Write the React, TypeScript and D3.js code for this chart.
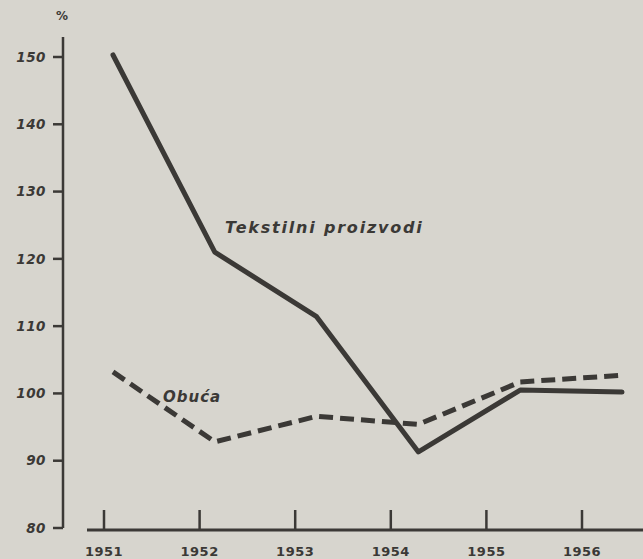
import React, { useEffect, useRef } from 'react';
import * as d3 from 'd3';

// values (index, 1951 = 100-ish)
const years = ['1951', '1952', '1953', '1954', '1955', '1956'];
const tekstil = [150.3, 121.0, 111.4, 91.3, 100.5, 100.2];
const obuca = [103.2, 92.8, 96.6, 95.4, 101.7, 102.7];
const yTicks = [80, 90, 100, 110, 120, 130, 140, 150];

const W = 643;
const H = 559;
const INK = '#3b3936';
const PAPER = '#d7d5ce';

const App = () => {
    const ref = useRef<SVGSVGElement>(null);

    useEffect(() => {
        const svg = d3.select(ref.current);
        svg.selectAll('*').remove();

        svg.append('rect').attr('width', W).attr('height', H).attr('fill', PAPER);

        const y = d3.scaleLinear().domain([80, 150]).range([528, 57]);
        // the printed ticks and the plotted points are not quite aligned
        const xAxis = d3.scalePoint().domain(years).range([104, 582]);
        const xData = d3.scalePoint().domain(years).range([113, 622]);

        const font = '"DejaVu Sans", sans-serif';

        // y axis
        svg.append('line')
            .attr('x1', 63).attr('x2', 63)
            .attr('y1', 37).attr('y2', y(80))
            .attr('stroke', INK).attr('stroke-width', 2.5);

        const yg = svg.append('g');
        yg.selectAll('line')
            .data(yTicks)
            .enter().append('line')
            .attr('x1', 53).attr('x2', 63)
            .attr('y1', d => y(d)).attr('y2', d => y(d))
            .attr('stroke', INK).attr('stroke-width', 2.5);
        yg.selectAll('text')
            .data(yTicks)
            .enter().append('text')
            .attr('x', 46)
            .attr('y', d => y(d))
            .attr('dy', '0.35em')
            .attr('text-anchor', 'end')
            .attr('font-family', font)
            .attr('font-style', 'italic')
            .attr('font-weight', 'bold')
            .attr('font-size', 13.5)
            .attr('letter-spacing', 0.5)
            .attr('fill', INK)
            .text(d => d);

        svg.append('text')
            .attr('x', 62).attr('y', 20)
            .attr('text-anchor', 'middle')
            .attr('font-family', font)
            .attr('font-weight', 'bold')
            .attr('font-size', 12)
            .attr('fill', INK)
            .text('%');

        // x axis
        svg.append('line')
            .attr('x1', 87).attr('x2', W)
            .attr('y1', 530).attr('y2', 530)
            .attr('stroke', INK).attr('stroke-width', 3);

        const xg = svg.append('g');
        xg.selectAll('line')
            .data(years)
            .enter().append('line')
            .attr('x1', d => xAxis(d)).attr('x2', d => xAxis(d))
            .attr('y1', 510).attr('y2', 530)
            .attr('stroke', INK).attr('stroke-width', 2.5);
        xg.selectAll('text')
            .data(years)
            .enter().append('text')
            .attr('x', d => xAxis(d))
            .attr('y', 556)
            .attr('text-anchor', 'middle')
            .attr('font-family', font)
            .attr('font-weight', 'bold')
            .attr('font-size', 13)
            .attr('letter-spacing', 0.5)
            .attr('fill', INK)
            .text(d => d);

        const line = d3.line<number>()
            .x((_, i) => xData(years[i]) as number)
            .y(d => y(d));

        svg.append('path')
            .attr('d', line(obuca))
            .attr('fill', 'none')
            .attr('stroke', INK)
            .attr('stroke-width', 5)
            .attr('stroke-dasharray', '14 7')
            .attr('stroke-linejoin', 'round');

        svg.append('path')
            .attr('d', line(tekstil))
            .attr('fill', 'none')
            .attr('stroke', INK)
            .attr('stroke-width', 5)
            .attr('stroke-linecap', 'round')
            .attr('stroke-linejoin', 'round');

        svg.append('text')
            .attr('x', 225).attr('y', 233)
            .attr('font-family', font)
            .attr('font-style', 'italic')
            .attr('font-weight', 'bold')
            .attr('font-size', 16)
            .attr('letter-spacing', 1.8)
            .attr('fill', INK)
            .text('Tekstilni proizvodi');

        svg.append('text')
            .attr('x', 163).attr('y', 402)
            .attr('font-family', font)
            .attr('font-style', 'italic')
            .attr('font-weight', 'bold')
            .attr('font-size', 15)
            .attr('letter-spacing', 1)
            .attr('fill', INK)
            .text('Obuća');
    }, []);

    return (
        <svg ref={ref} width={W} height={H} style={{ position: 'absolute', left: 0, top: 0 }} />
    );
};

export default App;
